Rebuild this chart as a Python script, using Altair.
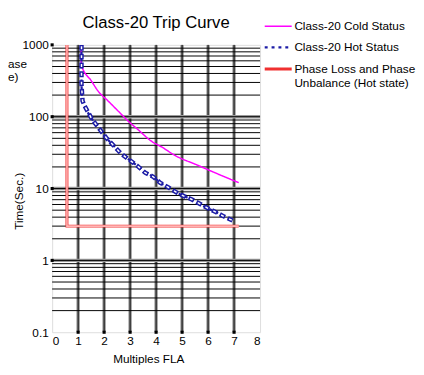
import altair as alt
import pandas as pd

FONT = "Liberation Sans"

# ---------------- data ----------------
series_names = ["Class-20 Cold Status", "Class-20 Hot Status",
                "Phase Loss and Phase Unbalance (Hot state)"]
series_colors = ["#ff00ff", "#1c1ca6", "#f03030"]

cold_x = [1.12, 1.12, 1.52, 1.77, 2.15, 2.53, 2.91, 3.35, 3.77, 4.29, 4.72, 5.55, 6.3, 7.18]
cold_y = [1000, 530, 311, 227, 166, 121, 88, 64, 47, 36.5, 29, 21.5, 16.4, 12.1]

hot_x = [1.13, 1.13, 1.13, 1.17, 1.25, 1.52, 1.84, 2.08, 2.38, 2.64, 2.97, 3.28,
         3.58, 3.89, 4.15, 4.49, 4.79, 5.09, 5.36, 5.66, 6.0, 6.3, 6.6, 6.94]
hot_y = [1000, 527, 283, 166, 141, 94, 66, 51, 39, 31, 25, 20.7,
         16.6, 14.6, 12.1, 10.3, 8.8, 7.8, 7.1, 6.2, 5.3, 4.7, 4.1, 3.6]

phase_x = [0.57, 0.57, 7.18]
phase_y = [1000, 3, 3]

x_ticks = [0, 1, 2, 3, 4, 5, 6, 7, 8]
y_ticks = [0.1, 1, 10, 100, 1000]
x_grid = [1, 2, 3, 4, 5, 6, 7]
y_major_grid = [1, 10, 100]
y_minor_grid = [0.2, 0.3, 0.4, 0.5, 0.6, 0.7, 0.8, 0.9,
                2, 3, 4, 5, 6, 7, 8, 9,
                20, 30, 40, 50, 60, 70, 80, 90,
                200, 300, 400, 500, 600, 700, 800, 900]
x_marks = [1, 2, 3, 4, 5, 6, 7]
y_marks = [1, 10, 100, 1000]
clipped_texts = ["ase", "e)"]

# ---------------- tables ----------------
rows = []
for name, xs, ys in zip(series_names, [cold_x, hot_x, phase_x], [cold_y, hot_y, phase_y]):
    for i, (xv, yv) in enumerate(zip(xs, ys)):
        rows.append({"series": name, "x": xv, "y": yv, "order": i})
df = pd.DataFrame(rows)

df_xgrid = pd.DataFrame({"x": x_grid})
df_ymaj = pd.DataFrame({"y": y_major_grid})
df_ymin = pd.DataFrame({"y": y_minor_grid})
df_xm = pd.DataFrame({"x": x_marks, "y": [0.1] * len(x_marks)})
df_ym = pd.DataFrame({"x": [0] * len(y_marks), "y": y_marks})

xscale = alt.Scale(domain=[0, 8], nice=False, zero=False)
yscale = alt.Scale(type="log", domain=[0.1, 1000], nice=False)

x_axis = alt.Axis(values=x_ticks, grid=False, domain=False, ticks=False,
                  labelFont=FONT, labelFontSize=12, labelColor="#000", labelPadding=4,
                  title="Multiples FLA", titleFont=FONT, titleFontSize=12,
                  titleFontWeight="normal", titleColor="#000",
                  titleX=98, titleY=27, titleBaseline="middle", titleAlign="center")
y_axis = alt.Axis(values=y_ticks, grid=False, domain=False, ticks=False, format=".1~f",
                  labelFont=FONT, labelFontSize=12, labelColor="#000", labelPadding=4,
                  title="Time(Sec.)", titleFont=FONT, titleFontSize=12,
                  titleFontWeight="normal", titleColor="#000", titleAngle=270,
                  titleX=-34, titleY=159, titleBaseline="middle", titleAlign="center")


def X():
    return alt.X("x:Q", scale=xscale, axis=x_axis)


def Y():
    return alt.Y("y:Q", scale=yscale, axis=y_axis)


# grid
vgrid_grey = alt.Chart(df_xgrid).mark_rule(color="#9a9a9a", strokeWidth=3.5).encode(x=X())
vgrid_black = alt.Chart(df_xgrid).mark_rule(color="#000", strokeWidth=1).encode(x=X())
hmin = alt.Chart(df_ymin).mark_rule(color="#000", strokeWidth=1).encode(y=Y())
hmaj_grey = alt.Chart(df_ymaj).mark_rule(color="#9a9a9a", strokeWidth=3.5).encode(y=Y())
hmaj_black = alt.Chart(df_ymaj).mark_rule(color="#000", strokeWidth=1).encode(y=Y())

marks_x = alt.Chart(df_xm).mark_square(size=10, color="#000", opacity=1).encode(x=X(), y=Y())
marks_y = alt.Chart(df_ym).mark_square(size=10, color="#000", opacity=1).encode(x=X(), y=Y())

legend = alt.Legend(
    orient="none", legendX=218, legendY=-31, padding=0,
    symbolType="M-1.25,0H1.25", symbolSize=484, rowPadding=3,
    labelFont=FONT, labelFontSize=12, labelColor="#000", labelOffset=4, labelLimit=300,
    labelExpr="indexof(datum.label, 'Phase Loss') == 0 ? ['Phase Loss and Phase', 'Unbalance (Hot state)'] : datum.label",
)

lines = alt.Chart(df).mark_line(interpolate="monotone").encode(
    x=X(), y=Y(), order="order:Q",
    color=alt.Color("series:N", title=None, legend=legend,
                    scale=alt.Scale(domain=series_names, range=series_colors)),
    strokeDash=alt.StrokeDash("series:N", title=None, legend=legend,
                              scale=alt.Scale(domain=series_names, range=[[1, 0], [3, 4], [1, 0]])),
    strokeWidth=alt.StrokeWidth("series:N", title=None, legend=legend,
                                scale=alt.Scale(domain=series_names, range=[1.5, 3, 4])),
)

hot_df = df[df.series == series_names[1]]
phase_df = df[df.series == series_names[2]]

hot_outer = alt.Chart(hot_df).mark_line(color="#1c1ca6", strokeWidth=4.5, strokeDash=[6, 3]).encode(
    x=X(), y=Y(), order="order:Q")
hot_inner = alt.Chart(hot_df).mark_line(color="#ffffff", strokeWidth=1.5,
                                        strokeDash=[0, 1.5, 3, 4.5]).encode(
    x=X(), y=Y(), order="order:Q")
phase_inner = alt.Chart(phase_df).mark_line(color="#ffb4b4", strokeWidth=1.6).encode(
    x=X(), y=Y(), order="order:Q")

# clipped fragments of a label at the far left edge of the reference
clipped = alt.Chart(pd.DataFrame({"k": [0]})).mark_text(
    text=clipped_texts, font=FONT, fontSize=12, color="#000", align="left",
    baseline="top", lineHeight=13,
).encode(x=alt.value(-45), y=alt.value(15))

chart = alt.layer(
    vgrid_grey, vgrid_black, hmaj_grey, hmin, hmaj_black, marks_x, marks_y,
    lines, hot_outer, hot_inner, phase_inner, clipped,
).properties(
    width=212, height=293,
    autosize=alt.AutoSizeParams(type="none"),
    padding={"left": 45, "top": 34, "right": 159, "bottom": 40},
    title=alt.TitleParams("Class-20 Trip Curve", font=FONT, fontSize=17, frame="group",
                          fontWeight="normal", color="#000", anchor="middle", offset=-18),
).configure_view(stroke="#959595", strokeWidth=2.5).configure(background="white")

chart.save("out.html", embed_options={"renderer": "svg", "actions": False})
